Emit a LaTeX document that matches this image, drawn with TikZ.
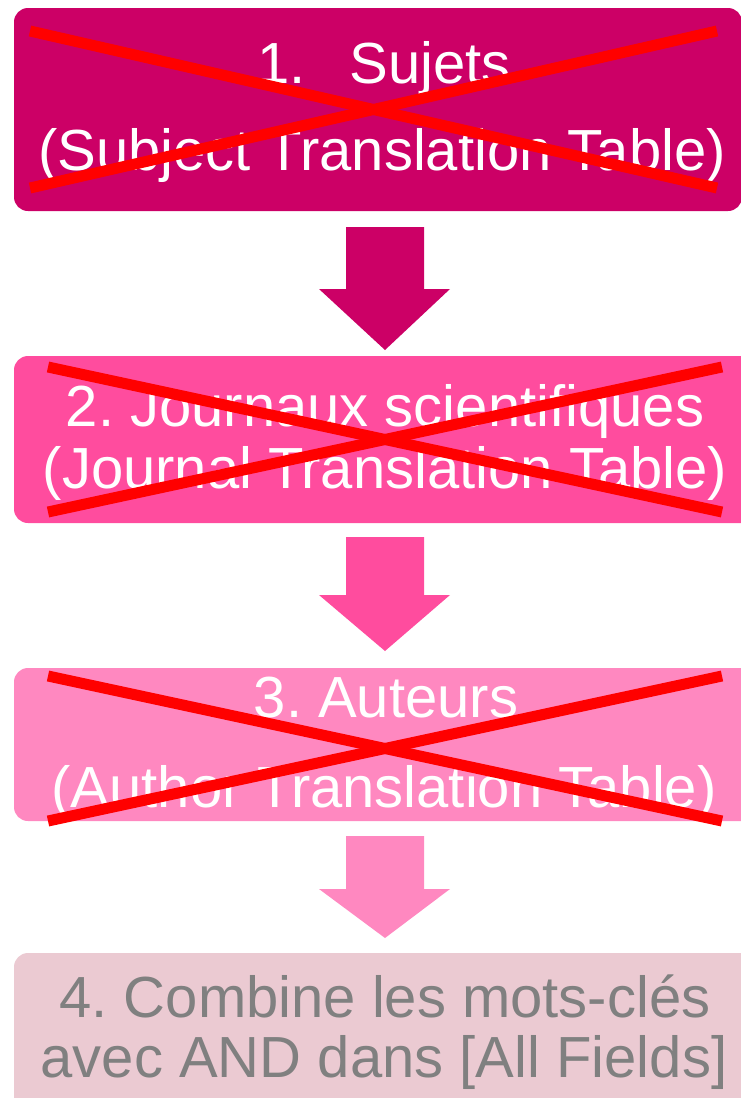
\documentclass[tikz,border=0pt]{standalone}
\usepackage{fontspec}
\setmainfont{Liberation Sans}
\frenchspacing
\definecolor{cOne}{RGB}{204,0,102}
\definecolor{cTwo}{RGB}{255,76,158}
\definecolor{cThree}{RGB}{255,136,192}
\definecolor{cFour}{RGB}{235,202,210}
\definecolor{cGrey}{RGB}{128,128,128}
\definecolor{cRed}{RGB}{255,0,0}
\tikzset{
  boxshape/.style={inner sep=0pt, outer sep=0pt, rounded corners=14pt},
  txt/.style={anchor=base, inner sep=0pt, font=\fontsize{58}{70}\selectfont},
  cross/.style={draw=cRed, line width=11pt},
}
\begin{document}
\begin{tikzpicture}[x=1pt,y=-1pt]
\useasboundingbox (0,0) rectangle (741,1098);
\begin{scope}
\clip (0,0) rectangle (741,1098);
% boxes
\fill[cOne,boxshape] (14,8) rectangle (742,211);
\fill[cTwo,boxshape] (14,356) rectangle (760,523);
\fill[cThree,boxshape] (14,668) rectangle (760,821);
\fill[cFour,boxshape] (14,953) rectangle (760,1130);
% block arrows
\fill[cOne] (346,227) -- (424,227) -- (424,289) -- (450,289) -- (385,350) -- (319,289) -- (346,289) -- cycle;
\fill[cTwo] (346,537) -- (424,537) -- (424,595) -- (450,595) -- (385,651) -- (319,595) -- (346,595) -- cycle;
\fill[cThree] (346,836) -- (424,836) -- (424,889) -- (450,889) -- (385,938) -- (319,889) -- (346,889) -- cycle;
% texts
\node[txt,text=white] (t1a) at (384,83) {1.\hspace{44pt}Sujets};
\node[txt,text=white] (t1b) at (382,170) {(Subject Translation Table)};
\node[txt,text=white] (t2a) at (385,426) {2. Journaux scientifiques};
\node[txt,text=white] (t2b) at (385,488) {(Journal Translation Table)};
\node[txt,text=white] (t3a) at (386,717) {3. Auteurs};
\node[txt,text=white] (t3b) at (384,807) {(Author Translation Table)};
\node[txt,text=cGrey] (t4a) at (385,1017) {4. Combine les mots-clés};
\node[txt,text=cGrey] (t4b) at (384,1077) {avec AND dans [All Fields]};
% red crosses
\coordinate (x1a) at (30,31); \coordinate (x1b) at (717,188);
\coordinate (x1c) at (30,188); \coordinate (x1d) at (717,31);
\draw[cross] (x1a) -- (x1b); \draw[cross] (x1c) -- (x1d);
\coordinate (x2a) at (48,367); \coordinate (x2b) at (722,512);
\coordinate (x2c) at (48,512); \coordinate (x2d) at (722,367);
\draw[cross] (x2a) -- (x2b); \draw[cross] (x2c) -- (x2d);
\coordinate (x3a) at (48,676); \coordinate (x3b) at (722,821);
\coordinate (x3c) at (48,821); \coordinate (x3d) at (722,676);
\draw[cross] (x3a) -- (x3b); \draw[cross] (x3c) -- (x3d);
\end{scope}
\end{tikzpicture}
\end{document}
